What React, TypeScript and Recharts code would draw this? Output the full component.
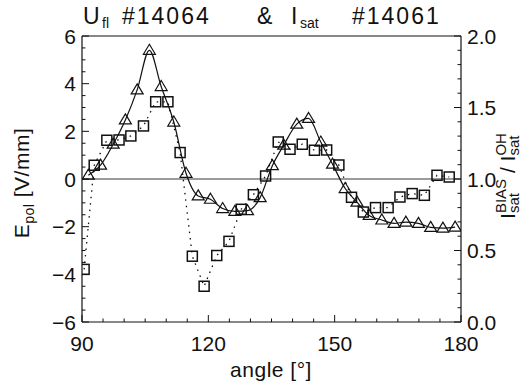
import React from 'react';
import { LineChart, Line, XAxis, YAxis, ReferenceLine } from 'recharts';

// E_pol (triangles, solid line, left axis)
const triAngle = [91.5, 94.4, 97.4, 100.3, 103.1, 106.0, 108.8, 111.8, 114.7, 117.6, 120.5, 123.4, 126.3, 129.3, 132.3, 135.2, 137.9, 141.0, 143.8, 146.7, 149.5, 152.5, 155.3, 158.2, 161.2, 164.1, 166.9, 169.9, 172.8, 175.7, 178.6];
const triEpol = [0.16, 0.58, 1.46, 2.48, 3.74, 5.4, 3.88, 2.39, 0.24, -0.71, -0.85, -1.24, -1.36, -1.33, -0.78, 0.56, 1.42, 2.3, 2.54, 1.55, 0.62, -0.4, -0.97, -1.53, -1.72, -1.86, -1.81, -1.86, -2.03, -2.06, -2.02];

// I_sat ratio (squares, dotted line, right axis)
const sqAngle = [90.5, 92.9, 95.9, 98.8, 101.6, 104.6, 107.5, 110.4, 113.3, 116.2, 119.0, 122.0, 124.9, 127.8, 130.7, 133.6, 136.6, 139.4, 142.3, 145.2, 148.1, 151.0, 154.0, 156.8, 159.7, 162.7, 165.5, 168.4, 171.3, 174.3, 177.2];
const sqRatio = [0.368, 1.096, 1.271, 1.273, 1.301, 1.371, 1.54, 1.54, 1.185, 0.46, 0.25, 0.465, 0.564, 0.788, 0.89, 1.021, 1.259, 1.208, 1.243, 1.201, 1.203, 1.098, 0.872, 0.769, 0.8, 0.8, 0.874, 0.898, 0.886, 1.026, 1.014];

const xTicks = [90, 95, 100, 105, 110, 115, 120, 125, 130, 135, 140, 145, 150, 155, 160, 165, 170, 175, 180];
const xLabels = [90, 120, 150, 180];
const leftTicks = [-6, -5.5, -5, -4.5, -4, -3.5, -3, -2.5, -2, -1.5, -1, -0.5, 0, 0.5, 1, 1.5, 2, 2.5, 3, 3.5, 4, 4.5, 5, 5.5, 6];
const leftLabels = [-6, -4, -2, 0, 2, 4, 6];
const rightTicks = [0, 0.1, 0.2, 0.3, 0.4, 0.5, 0.6, 0.7, 0.8, 0.9, 1, 1.1, 1.2, 1.3, 1.4, 1.5, 1.6, 1.7, 1.8, 1.9, 2];
const rightLabels = [0, 0.5, 1, 1.5, 2];

const triData = triAngle.map((a, i) => ({ angle: a, e: triEpol[i] }));
const sqData = sqAngle.map((a, i) => ({ angle: a, r: sqRatio[i] }));

const FONT = '"Liberation Sans", Arial, sans-serif';
const INK = '#111';
const FS = 21;

const BottomTick = (props: any) => {
  const { x, y, payload } = props;
  const major = xLabels.includes(payload.value);
  return (
    <g>
      <line x1={x} y1={y} x2={x} y2={y - (major ? 7 : 3.5)} stroke={INK} strokeWidth={1} />
      {major && (
        <text x={x} y={y + 29} textAnchor="middle" fontFamily={FONT} fontSize={FS} fill={INK}>
          {payload.value}
        </text>
      )}
    </g>
  );
};

const TopTick = (props: any) => {
  const { x, y, payload } = props;
  const major = xLabels.includes(payload.value);
  return <line x1={x} y1={y} x2={x} y2={y + (major ? 7 : 3.5)} stroke={INK} strokeWidth={1} />;
};

const LeftTick = (props: any) => {
  const { x, y, payload } = props;
  const v = payload.value;
  const major = leftLabels.includes(v);
  return (
    <g>
      <line x1={x} y1={y} x2={x + (major ? 7 : 3.5)} y2={y} stroke={INK} strokeWidth={1} />
      {major && (
        <text x={x - 6} y={y} dy="0.36em" textAnchor="end" fontFamily={FONT} fontSize={FS} fill={INK}>
          {v < 0 ? '\u2212' + Math.abs(v) : String(v)}
        </text>
      )}
    </g>
  );
};

const RightTick = (props: any) => {
  const { x, y, payload } = props;
  const v = payload.value;
  const major = rightLabels.includes(v);
  return (
    <g>
      <line x1={x} y1={y} x2={x - (major ? 7 : 3.5)} y2={y} stroke={INK} strokeWidth={1} />
      {major && (
        <text x={x + 6} y={y} dy="0.36em" textAnchor="start" fontFamily={FONT} fontSize={FS} fill={INK}>
          {v.toFixed(1)}
        </text>
      )}
    </g>
  );
};

const Triangle = (props: any) => {
  const { cx, cy, index } = props;
  if (cx == null || cy == null) return <g key={`t${index}`} />;
  return (
    <path
      key={`t${index}`}
      d={`M${cx},${cy - 6} L${cx + 6},${cy + 4} L${cx - 6},${cy + 4} Z`}
      fill="none"
      stroke={INK}
      strokeWidth={1.2}
    />
  );
};

const Square = (props: any) => {
  const { cx, cy, index } = props;
  if (cx == null || cy == null) return <g key={`s${index}`} />;
  return <rect key={`s${index}`} x={cx - 5} y={cy - 5} width={10} height={10} fill="none" stroke={INK} strokeWidth={1.5} />;
};

export default function App() {
  return (
    <div style={{ position: 'absolute', left: 0, top: 0, width: 524, height: 390, background: '#fff' }}>
      <LineChart width={524} height={390} margin={{ top: 0, right: 0, bottom: 0, left: 0 }}>
        <XAxis
          xAxisId="bottom"
          dataKey="angle"
          type="number"
          domain={[90, 180]}
          ticks={xTicks}
          interval={0}
          height={68}
          tickSize={0}
          tickMargin={0}
          tickLine={false}
          axisLine={{ stroke: INK, strokeWidth: 1.2 }}
          tick={<BottomTick />}
          allowDataOverflow
        />
        <XAxis
          xAxisId="top"
          orientation="top"
          type="number"
          domain={[90, 180]}
          ticks={xTicks}
          interval={0}
          height={36}
          tickSize={0}
          tickMargin={0}
          tickLine={false}
          axisLine={{ stroke: INK, strokeWidth: 1.2 }}
          tick={<TopTick />}
          allowDataOverflow
        />
        <YAxis
          yAxisId="left"
          type="number"
          domain={[-6, 6]}
          ticks={leftTicks}
          interval={0}
          width={82}
          tickSize={0}
          tickMargin={0}
          tickLine={false}
          axisLine={{ stroke: INK, strokeWidth: 1.2 }}
          tick={<LeftTick />}
          allowDataOverflow
        />
        <YAxis
          yAxisId="right"
          orientation="right"
          type="number"
          domain={[0, 2]}
          ticks={rightTicks}
          interval={0}
          width={63}
          tickSize={0}
          tickMargin={0}
          tickLine={false}
          axisLine={{ stroke: INK, strokeWidth: 1.2 }}
          tick={<RightTick />}
          allowDataOverflow
        />
        <ReferenceLine xAxisId="bottom" yAxisId="left" y={0} stroke="#7a7a7a" strokeWidth={1.5} />
        <Line
          xAxisId="bottom"
          yAxisId="right"
          data={sqData}
          dataKey="r"
          type="linear"
          stroke={INK}
          strokeWidth={1.3}
          strokeDasharray="1.5 5"
          dot={<Square />}
          activeDot={false}
          isAnimationActive={false}
        />
        <Line
          xAxisId="bottom"
          yAxisId="left"
          data={triData}
          dataKey="e"
          type="monotone"
          stroke={INK}
          strokeWidth={1.2}
          dot={<Triangle />}
          activeDot={false}
          isAnimationActive={false}
        />
      </LineChart>
      <svg width={524} height={390} style={{ position: 'absolute', left: 0, top: 0, pointerEvents: 'none' }}>
        <g fontFamily={FONT} fill={INK}>
          <text y={24} fontSize={23}>
            <tspan x={83}>U</tspan>
            <tspan x={102} dy={4} fontSize={14}>fl</tspan>
            <tspan x={122} dy={-4} letterSpacing={2}>#14064</tspan>
            <tspan x={257}>&amp;</tspan>
            <tspan x={291}>I</tspan>
            <tspan x={300} dy={4} fontSize={14}>sat</tspan>
            <tspan x={352} dy={-4} letterSpacing={2}>#14061</tspan>
          </text>
          <text transform="translate(29,183) rotate(-90)" textAnchor="middle" fontSize={FS} letterSpacing={0.5}>
            <tspan>E</tspan>
            <tspan dy={5} fontSize={14}>pol</tspan>
            <tspan dy={-5}>{' [V/mm]'}</tspan>
          </text>
          <text x={271} y={377} textAnchor="middle" fontSize={FS} letterSpacing={0.5}>
            angle [°]
          </text>
          <text transform="translate(515,176) rotate(-90)" textAnchor="middle" fontSize={FS}>
            <tspan>I</tspan>
            <tspan dy={4} fontSize={15}>sat</tspan>
            <tspan dx={-20} dy={-13} fontSize={15}>BIAS</tspan>
            <tspan dy={9}>{' / '}</tspan>
            <tspan>I</tspan>
            <tspan dy={4} fontSize={15}>sat</tspan>
            <tspan dx={-20} dy={-13} fontSize={15}>OH</tspan>
          </text>
        </g>
      </svg>
    </div>
  );
}
